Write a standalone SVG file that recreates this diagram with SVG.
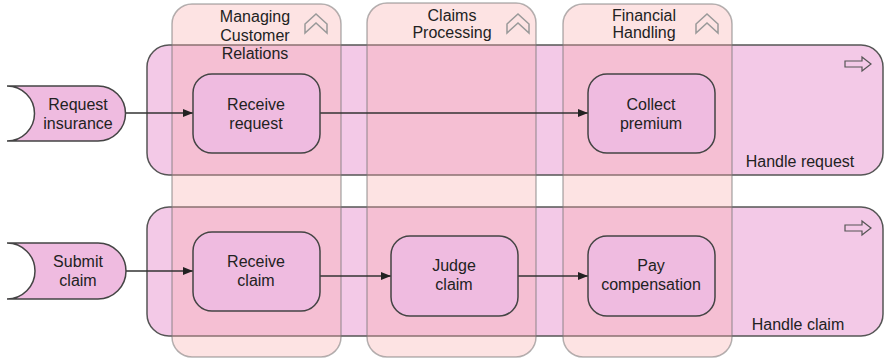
<svg xmlns="http://www.w3.org/2000/svg" width="885" height="359" viewBox="0 0 885 359">
<defs>
<style>
text{font-family:"Liberation Sans",Arial,sans-serif;font-size:16px;fill:#222;text-anchor:middle}
.row{fill:#f3c9e7;stroke:#555;stroke-width:1.5}
.col{fill:#f9aaaa;fill-opacity:0.33;stroke:#777;stroke-opacity:0.55;stroke-width:1.5}
.node{fill:#efbbe0;stroke:#444;stroke-width:1.5}
.icon{fill:none;stroke:#555;stroke-width:1.2;stroke-linejoin:miter}
.cicon{fill:none;stroke:#999;stroke-width:1.5}
.conn{fill:none;stroke:#333;stroke-width:1.3}
.lt{text-anchor:middle}
</style>
<marker id="ah" viewBox="0 0 10 10" refX="10" refY="5" markerWidth="10" markerHeight="10" markerUnits="userSpaceOnUse" orient="auto">
<path d="M0,1 L10,5 L0,9 Z" fill="#222"/>
</marker>
</defs>

<g id="row-handle-request">
<rect class="row" x="147" y="45" width="736" height="130" rx="22"/>
<path class="icon" d="M845,61 H862 V57 L871,64 L862,71 V67 H845 Z"/>
<text x="800" y="167">Handle request</text>
</g>
<g id="row-handle-claim">
<rect class="row" x="147" y="207" width="736" height="129" rx="22"/>
<path class="icon" d="M845,225 H862 V221 L871,228 L862,235 V231 H845 Z"/>
<text x="798" y="330">Handle claim</text>
</g>

<g id="col-managing">
<rect class="col" x="172" y="4" width="169" height="353" rx="20"/>
<path class="cicon" d="M305,24 L316,14 L327,24 V33 L316,23 L305,33 Z"/>
<text x="255" y="22">Managing</text>
<text x="255" y="41">Customer</text>
<text x="255" y="59">Relations</text>
</g>
<g id="col-claims">
<rect class="col" x="367" y="3" width="169" height="354" rx="20"/>
<path class="cicon" d="M507,24 L518,14 L529,24 V33 L518,23 L507,33 Z"/>
<text x="452" y="21">Claims</text>
<text x="452" y="38">Processing</text>
</g>
<g id="col-financial">
<rect class="col" x="563" y="4" width="169" height="353" rx="20"/>
<path class="cicon" d="M696,24 L707,14 L718,24 V33 L707,23 L696,33 Z"/>
<text x="644" y="21">Financial</text>
<text x="644" y="38">Handling</text>
</g>

<g id="connectors">
<path class="conn" d="M126,113 H193" marker-end="url(#ah)"/>
<path class="conn" d="M320,113 H588" marker-end="url(#ah)"/>
<path class="conn" d="M126,271 H193" marker-end="url(#ah)"/>
<path class="conn" d="M320,276 H391" marker-end="url(#ah)"/>
<path class="conn" d="M518,276 H588" marker-end="url(#ah)"/>
</g>

<g id="ev-request-insurance">
<path class="node" d="M7,86 H98 A27.5,27.5 0 0 1 98,141 H7 A27.5,27.5 0 0 0 7,86 Z"/>
<text x="78" y="110">Request</text>
<text x="78" y="129">insurance</text>
</g>
<g id="ev-submit-claim">
<path class="node" d="M7,243 H98 A28,28 0 0 1 98,299 H7 A28,28 0 0 0 7,243 Z"/>
<text x="78" y="267">Submit</text>
<text x="78" y="286">claim</text>
</g>

<g id="n-receive-request">
<rect class="node" x="193" y="74" width="127" height="79" rx="19"/>
<text x="256" y="110">Receive</text>
<text x="256" y="129">request</text>
</g>
<g id="n-collect-premium">
<rect class="node" x="588" y="74" width="127" height="79" rx="19"/>
<text x="651" y="110">Collect</text>
<text x="651" y="129">premium</text>
</g>
<g id="n-receive-claim">
<rect class="node" x="193" y="232" width="127" height="79" rx="19"/>
<text x="256" y="267">Receive</text>
<text x="256" y="286">claim</text>
</g>
<g id="n-judge-claim">
<rect class="node" x="391" y="236" width="127" height="80" rx="19"/>
<text x="454" y="271">Judge</text>
<text x="454" y="290">claim</text>
</g>
<g id="n-pay-compensation">
<rect class="node" x="588" y="236" width="127" height="80" rx="19"/>
<text x="651" y="271">Pay</text>
<text x="651" y="290">compensation</text>
</g>
</svg>
